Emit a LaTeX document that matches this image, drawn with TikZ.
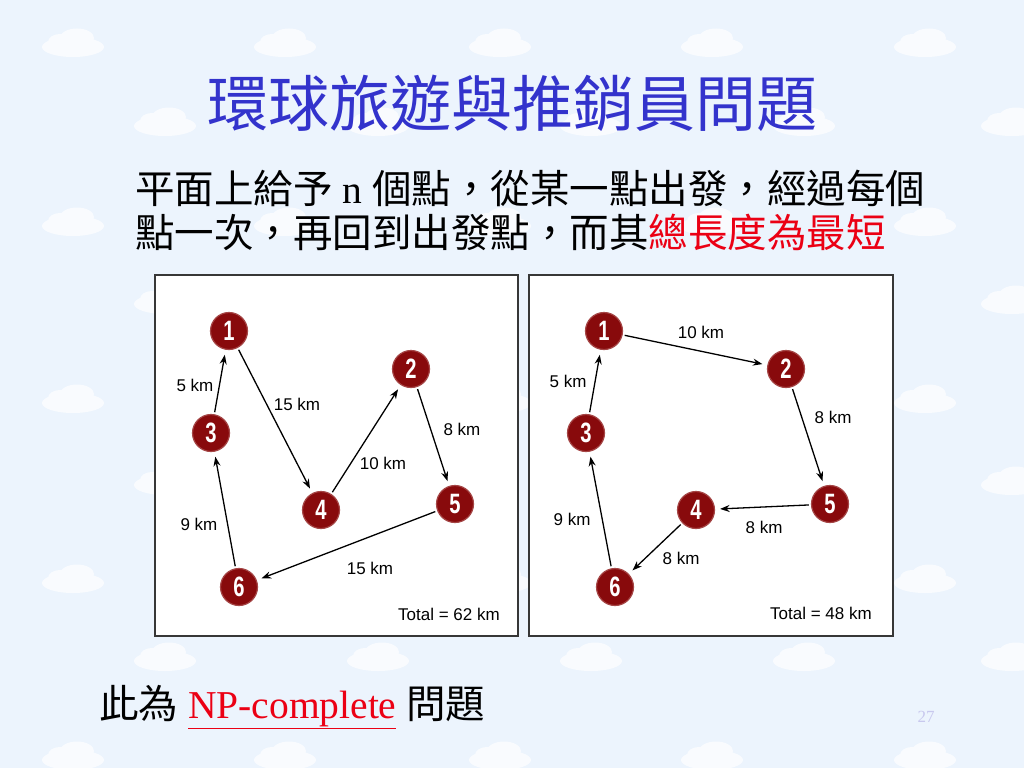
\documentclass[tikz,border=0pt]{standalone}
\usepackage{fontspec}
\setmainfont{Liberation Serif}
\newfontfamily\cjk{Noto Sans CJK TC}
\newfontfamily\arial{Liberation Sans}
\newfontfamily\numfont{Liberation Sans}[FakeStretch=0.72]
\usetikzlibrary{arrows.meta}
\definecolor{bg}{RGB}{236,244,253}
\definecolor{titleblue}{RGB}{51,51,204}
\definecolor{hired}{RGB}{235,0,20}
\definecolor{maroon}{RGB}{136,10,12}
\definecolor{rim}{RGB}{165,70,70}
\definecolor{pgnum}{RGB}{200,200,238}
\definecolor{boxline}{RGB}{55,55,55}
\tikzset{
  cloudpic/.pic={\fill[white,opacity=0.7]
      (0,4) ellipse [x radius=31,y radius=10]
      (4,-5) ellipse [x radius=17,y radius=9.5]
      (-13,-1) ellipse [x radius=12,y radius=8];},
  city/.style={circle,fill=maroon,draw=rim,line width=1.2pt,minimum size=37pt,inner sep=0pt,
      text=white,font=\numfont\bfseries\fontsize{28}{28}\selectfont},
  arr/.style={draw=black,line width=1.3pt,-{Stealth[length=9.5pt,width=7pt]},shorten >=5pt,shorten <=2pt},
  km/.style={font=\arial\fontsize{17}{18}\selectfont,inner sep=0pt},
  panel/.style={draw=boxline,line width=2pt,fill=white},
}
\begin{document}
\begin{tikzpicture}[x=1pt,y=-1pt]
\fill[bg] (0,0) rectangle (1024,768);
\useasboundingbox (0,0) rectangle (1024,768);
% clouds
\foreach \y in {43,222,399,579,756}{
  \foreach \x in {73,285,500,712,925}{\pic at (\x,\y) {cloudpic};}}
\foreach \y in {122,300,481,657}{
  \foreach \x in {165,378,591,804,1012}{\pic at (\x,\y) {cloudpic};}}
% title
\node[text=titleblue,font=\cjk\fontsize{61}{62}\selectfont,inner sep=0pt] (title) at (512,103) {環球旅遊與推銷員問題};
% body
\node[anchor=west,inner sep=0pt,font=\fontsize{39.5}{40}\selectfont] (line1) at (135,188)
  {{\cjk 平面上給予} n {\cjk 個點，從某一點出發，經過每個}};
\node[anchor=west,inner sep=0pt,font=\fontsize{39.5}{40}\selectfont] (line2) at (135,232)
  {{\cjk 點一次，再回到出發點，而其}{\cjk\color{hired}總長度為最短}};
% panels
\draw[panel] (155,275) rectangle (518,636);
\draw[panel] (529,275) rectangle (893,636);
% left graph
\node[city] (a1) at (229,331) {1};
\node[city] (a2) at (411,369) {2};
\node[city] (a3) at (211,433) {3};
\node[city] (a4) at (321,510) {4};
\node[city] (a5) at (455,504) {5};
\node[city] (a6) at (239,587) {6};
\draw[arr] (a3) -- (a1);
\draw[arr] (a1) -- (a4);
\draw[arr] (a4) -- (a2);
\draw[arr] (a2) -- (a5);
\draw[arr] (a5) -- (a6);
\draw[arr] (a6) -- (a3);
\node[km] (la31) at (195,385) {5 km};
\node[km] (la14) at (297,404) {15 km};
\node[km] (la42) at (383,463) {10 km};
\node[km] (la25) at (462,429) {8 km};
\node[km] (la56) at (370,568) {15 km};
\node[km] (la63) at (199,524) {9 km};
\node[km] (ltot) at (449,614) {Total = 62 km};
% right graph
\node[city] (b1) at (604,331) {1};
\node[city] (b2) at (786,369) {2};
\node[city] (b3) at (586,433) {3};
\node[city] (b4) at (696,510) {4};
\node[city] (b5) at (830,504) {5};
\node[city] (b6) at (615,587) {6};
\draw[arr] (b1) -- (b2);
\draw[arr] (b2) -- (b5);
\draw[arr] (b5) -- (b4);
\draw[arr] (b4) -- (b6);
\draw[arr] (b6) -- (b3);
\draw[arr] (b3) -- (b1);
\node[km] (lb12) at (701,332) {10 km};
\node[km] (lb31) at (568,381) {5 km};
\node[km] (lb25) at (833,417) {8 km};
\node[km] (lb54) at (764,527) {8 km};
\node[km] (lb46) at (681,558) {8 km};
\node[km] (lb63) at (572,519) {9 km};
\node[km] (rtot) at (821,613) {Total = 48 km};
% bottom line
\node[anchor=west,inner sep=0pt,font=\fontsize{39.5}{40}\selectfont] (np) at (99,707)
  {{\cjk 此為}\ {\color{hired}\underline{NP-complete}}\ {\cjk 問題}};
\node[text=pgnum,font=\fontsize{17}{17}\selectfont,inner sep=0pt] (pg) at (926,717) {27};
\end{tikzpicture}
\end{document}
